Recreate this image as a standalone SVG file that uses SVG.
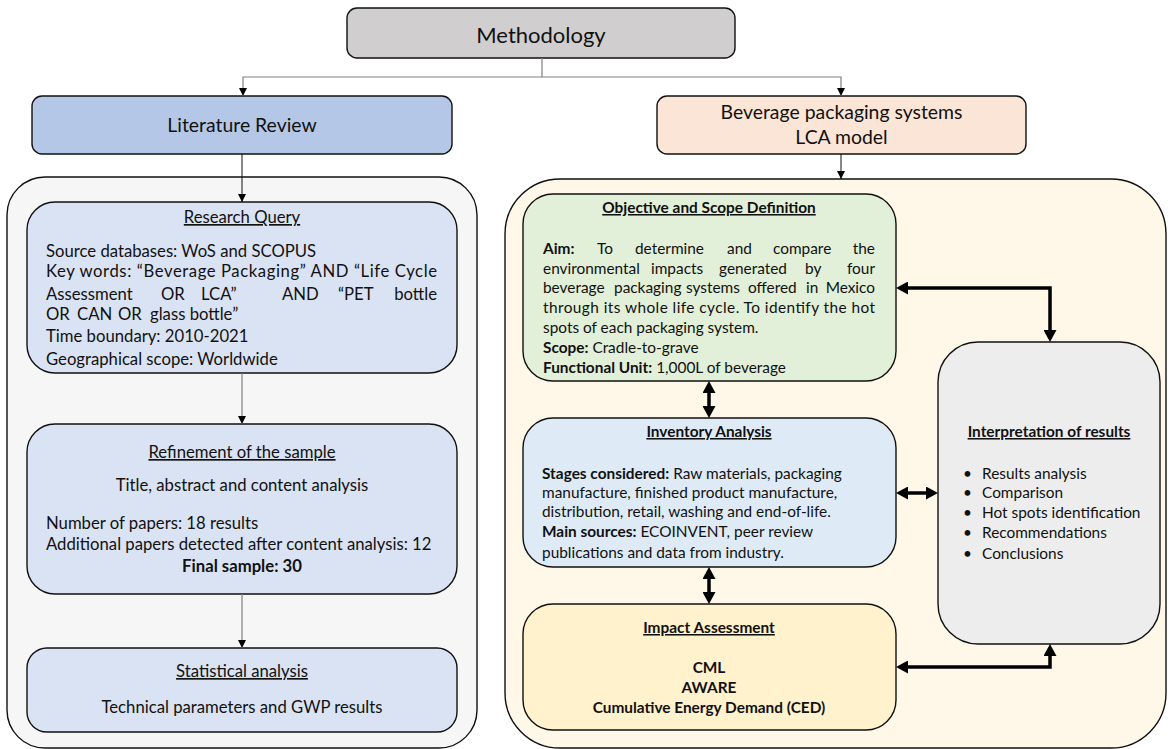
<svg xmlns="http://www.w3.org/2000/svg" width="1170" height="749" viewBox="0 0 1170 749">
<style>
text{font-family:Lato,"Liberation Sans",sans-serif;fill:#111}
.box{stroke:#111;stroke-width:1.4}
.t24{font-size:22px}
.t20{font-size:19.4px}
.t18{font-size:16.7px}
.t16{font-size:15.4px}
.c{text-anchor:middle}
.e{text-anchor:end}
.b{font-weight:bold}
.u{text-decoration:underline}
.thin{fill:none;stroke:#111;stroke-width:1}
.gray{fill:none;stroke:#808080;stroke-width:1.2}
.thick{fill:none;stroke:#000;stroke-width:3.5}
</style>
<defs>
<marker id="sa" viewBox="0 0 10 10" refX="10" refY="5" markerWidth="8" markerHeight="9" markerUnits="userSpaceOnUse" orient="auto-start-reverse"><path d="M0,0 L10,5 L0,10 z" fill="#000"/></marker>
<marker id="ta" viewBox="0 0 12 13" refX="0" refY="6.5" markerWidth="12" markerHeight="13" markerUnits="userSpaceOnUse" orient="auto-start-reverse"><path d="M0,0 L12,6.5 L0,13 z" fill="#000"/></marker>
</defs>

<g id="containers">
<rect x="7" y="177" width="470" height="571" rx="38" fill="#f6f6f6" class="box"/>
<rect x="505" y="179" width="661" height="569" rx="55" fill="#fff7e7" class="box"/>
</g>

<g id="methodology">
<rect x="347" y="8" width="388" height="50" rx="10" fill="#d0cece" class="box"/>
<text x="541" y="43" class="t24 c">Methodology</text>
</g>

<g id="literature-review">
<rect x="32" y="96" width="420" height="58" rx="10" fill="#b4c7e7" class="box"/>
<text x="242" y="132" class="t20 c">Literature Review</text>
</g>

<g id="beverage-lca">
<rect x="657" y="96" width="369" height="58" rx="10" fill="#fbe5d6" class="box"/>
<text x="841.5" y="119" class="t20 c">Beverage packaging systems</text>
<text x="841.5" y="144" class="t20 c">LCA model</text>
</g>

<g id="research-query">
<rect x="27" y="202" width="430" height="171" rx="28" fill="#dae3f3" class="box"/>
<text x="242" y="223" class="t18 c u">Research Query</text>
<text x="46" y="257" class="t18">Source databases: WoS and SCOPUS</text>
<text x="46" y="277" class="t18" textLength="391" lengthAdjust="spacing">Key words: “Beverage Packaging” AND “Life Cycle</text>
<text y="300" class="t18"><tspan x="46">Assessment</tspan><tspan x="161">OR</tspan><tspan x="201">LCA”</tspan><tspan x="282">AND</tspan><tspan x="338">“PET</tspan></text>
<text x="437" y="300" class="t18 e">bottle</text>
<text y="320" class="t18"><tspan x="46">OR</tspan><tspan x="77">CAN</tspan><tspan x="118">OR</tspan><tspan x="150">glass bottle”</tspan></text>
<text x="46" y="342" class="t18">Time boundary: 2010-2021</text>
<text x="46" y="365" class="t18">Geographical scope: Worldwide</text>
</g>

<g id="refinement">
<rect x="27" y="424" width="430" height="170" rx="28" fill="#dae3f3" class="box"/>
<text x="242" y="458" class="t18 c u">Refinement of the sample</text>
<text x="242" y="491" class="t18 c">Title, abstract and content analysis</text>
<text x="46" y="529" class="t18">Number of papers: 18 results</text>
<text x="46" y="550" class="t18">Additional papers detected after content analysis: 12</text>
<text x="242" y="572" class="t18 c b">Final sample: 30</text>
</g>

<g id="statistical">
<rect x="27" y="648" width="430" height="84" rx="20" fill="#dae3f3" class="box"/>
<text x="242" y="677" class="t18 c u">Statistical analysis</text>
<text x="242" y="713" class="t18 c">Technical parameters and GWP results</text>
</g>

<g id="objective-scope">
<rect x="523" y="194" width="373" height="187" rx="30" fill="#e2f0d9" class="box"/>
<text x="709" y="213" class="t16 c b u">Objective and Scope Definition</text>
<text y="254" class="t16"><tspan x="543" class="b">Aim:</tspan><tspan x="597">To</tspan><tspan x="635">determine</tspan><tspan x="727">and</tspan><tspan x="773">compare</tspan></text>
<text x="875" y="254" class="t16 e">the</text>
<text y="274" class="t16"><tspan x="543">environmental</tspan><tspan x="651">impacts</tspan><tspan x="719">generated</tspan><tspan x="805">by</tspan></text>
<text x="875" y="274" class="t16 e">four</text>
<text y="293" class="t16"><tspan x="543">beverage</tspan><tspan x="614">packaging</tspan><tspan x="686">systems</tspan><tspan x="748">offered</tspan><tspan x="806">in</tspan></text>
<text x="875" y="293" class="t16 e">Mexico</text>
<text x="543" y="313" class="t16" textLength="332" lengthAdjust="spacing">through its whole life cycle. To identify the hot</text>
<text x="543" y="333" class="t16">spots of each packaging system.</text>
<text x="543" y="353" class="t16"><tspan class="b">Scope:</tspan> Cradle-to-grave</text>
<text x="543" y="373" class="t16"><tspan class="b">Functional Unit:</tspan> 1,000L of beverage</text>
</g>

<g id="inventory">
<rect x="523" y="418" width="373" height="149" rx="30" fill="#deebf7" class="box"/>
<text x="709" y="437" class="t16 c b u">Inventory Analysis</text>
<text x="542" y="479" class="t16"><tspan class="b">Stages considered:</tspan> Raw materials, packaging</text>
<text x="542" y="498" class="t16">manufacture, finished product manufacture,</text>
<text x="542" y="517" class="t16">distribution, retail, washing and end-of-life.</text>
<text x="542" y="537" class="t16"><tspan class="b">Main sources:</tspan> ECOINVENT, peer review</text>
<text x="542" y="558" class="t16">publications and data from industry.</text>
</g>

<g id="impact">
<rect x="523" y="604" width="373" height="126" rx="30" fill="#fff2cc" class="box"/>
<text x="709" y="633" class="t16 c b u">Impact Assessment</text>
<text x="709" y="673" class="t16 c b">CML</text>
<text x="709" y="693" class="t16 c b">AWARE</text>
<text x="709" y="713" class="t16 c b">Cumulative Energy Demand (CED)</text>
</g>

<g id="interpretation">
<rect x="938" y="342" width="222" height="302" rx="40" fill="#ededed" class="box"/>
<text x="1049" y="437" class="t16 c b u">Interpretation of results</text>
<text x="963" y="479" class="t16">•</text><text x="982" y="479" class="t16">Results analysis</text>
<text x="963" y="498" class="t16">•</text><text x="982" y="498" class="t16">Comparison</text>
<text x="963" y="518" class="t16">•</text><text x="982" y="518" class="t16">Hot spots identification</text>
<text x="963" y="538" class="t16">•</text><text x="982" y="538" class="t16">Recommendations</text>
<text x="963" y="559" class="t16">•</text><text x="982" y="559" class="t16">Conclusions</text>
</g>

<g id="connectors">
<path d="M542,58 V77" class="gray"/>
<path d="M243,96 V77 H841 V96" class="gray" marker-start="url(#sa)" marker-end="url(#sa)"/>
<path d="M242,154 V202" class="thin" marker-end="url(#sa)"/>
<path d="M841,154 V179" class="thin" marker-end="url(#sa)"/>
<path d="M242,373 V424" class="gray" marker-end="url(#sa)"/>
<path d="M242,594 V648" class="gray" marker-end="url(#sa)"/>
<path d="M709,393 V406" class="thick" marker-start="url(#ta)" marker-end="url(#ta)"/>
<path d="M709,579 V592" class="thick" marker-start="url(#ta)" marker-end="url(#ta)"/>
<path d="M908,288 H1050 V330" class="thick" marker-start="url(#ta)" marker-end="url(#ta)"/>
<path d="M908,493 H926" class="thick" marker-start="url(#ta)" marker-end="url(#ta)"/>
<path d="M908,667 H1050 V656" class="thick" marker-start="url(#ta)" marker-end="url(#ta)"/>
</g>
</svg>
